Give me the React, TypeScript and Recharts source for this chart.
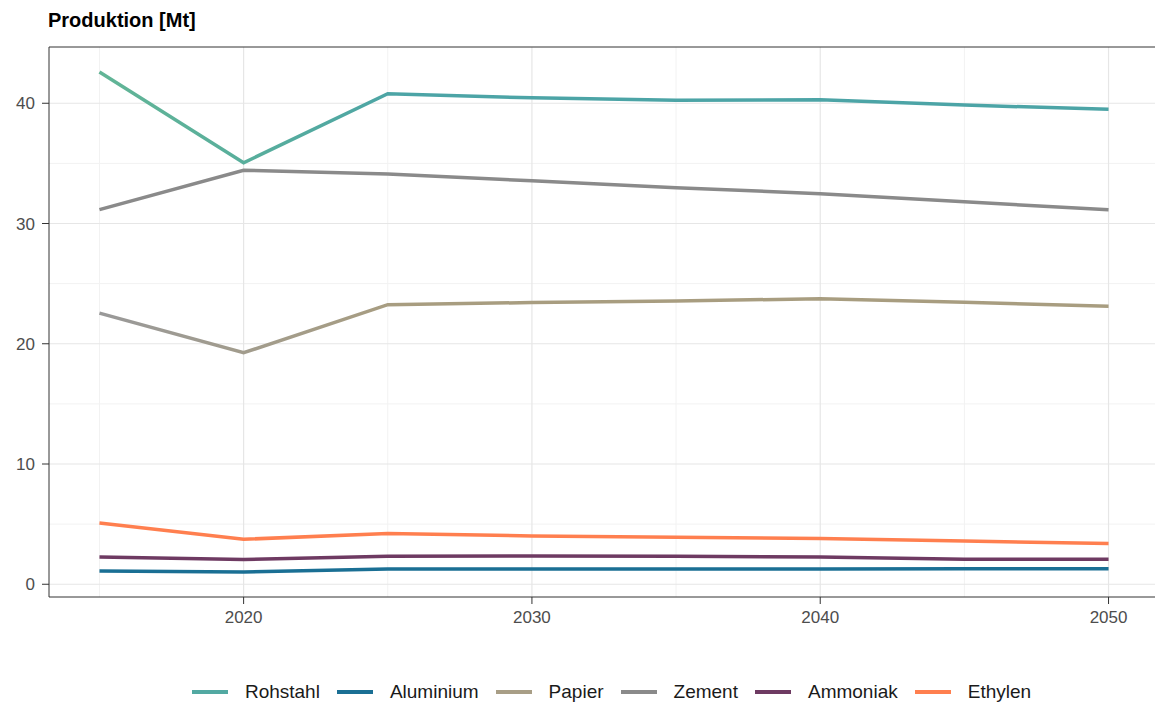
import React from "react";
import {
  LineChart,
  Line,
  XAxis,
  YAxis,
  CartesianGrid,
  Legend,
  ReferenceArea,
} from "recharts";

const years = [2015, 2020, 2025, 2030, 2035, 2040, 2045, 2050];
const rohstahl = [42.6, 35.05, 40.8, 40.45, 40.25, 40.3, 39.85, 39.5];
const aluminium = [1.1, 1.02, 1.27, 1.27, 1.27, 1.27, 1.28, 1.3];
const papier = [22.55, 19.25, 23.25, 23.43, 23.55, 23.75, 23.45, 23.12];
const zement = [31.15, 34.43, 34.12, 33.55, 32.98, 32.48, 31.8, 31.15];
const ammoniak = [2.27, 2.05, 2.33, 2.35, 2.32, 2.27, 2.08, 2.08];
const ethylen = [5.1, 3.74, 4.22, 4.02, 3.9, 3.8, 3.6, 3.38];

const xTicks = [2020, 2030, 2040, 2050];
const yTicks = [0, 10, 20, 30, 40];
const xMinor = [2015, 2025, 2035, 2045];
const yMinor = [5, 15, 25, 35];

const series = [
  { key: "Rohstahl", values: rohstahl, color: "#52a9a2", stroke: "url(#gradRohstahl)" },
  { key: "Aluminium", values: aluminium, color: "#1a6f94", stroke: "#1a6f94" },
  { key: "Papier", values: papier, color: "#a89e86", stroke: "url(#gradPapier)" },
  { key: "Zement", values: zement, color: "#8a8a8a", stroke: "#8a8a8a" },
  { key: "Ammoniak", values: ammoniak, color: "#6e3a62", stroke: "#6e3a62" },
  { key: "Ethylen", values: ethylen, color: "#ff7f4f", stroke: "#ff7f4f" },
];

const data = years.map((year, i) => {
  const row: Record<string, number> = { year };
  series.forEach((s) => {
    row[s.key] = s.values[i];
  });
  return row;
});

// ggplot-style 5% expansion
const allValues = series.flatMap((s) => s.values);
const yLo = Math.min(...allValues);
const yHi = Math.max(...allValues);
const yPad = (yHi - yLo) * 0.05;
const yDomain: [number, number] = [yLo - yPad, yHi + yPad];
const xPad = (years[years.length - 1] - years[0]) * 0.05;
const xDomain: [number, number] = [years[0] - xPad, years[years.length - 1] + xPad];

const font = "'Liberation Sans', Arial, sans-serif";

const LegendRow = () => (
  <div
    style={{
      display: "flex",
      justifyContent: "center",
      alignItems: "center",
      gap: 17,
      fontFamily: font,
      fontSize: 19,
      color: "#1a1a1a",
    }}
  >
    {series.map((s) => (
      <div key={s.key} style={{ display: "flex", alignItems: "center" }}>
        <span
          style={{
            display: "inline-block",
            width: 36,
            height: 4,
            background: s.color,
            marginRight: 17,
          }}
        />
        <span>{s.key}</span>
      </div>
    ))}
  </div>
);

export default function App() {
  return (
    <div
      style={{
        position: "absolute",
        left: 0,
        top: 0,
        width: 1155,
        height: 706,
        background: "#fff",
        fontFamily: font,
        overflow: "hidden",
      }}
    >
      <div
        style={{
          position: "absolute",
          left: 48,
          top: 9,
          fontSize: 20,
          fontWeight: "bold",
          color: "#000",
        }}
      >
        Produktion [Mt]
      </div>
      <LineChart
        width={1155}
        height={706}
        data={data}
        margin={{ top: 47, right: -4, bottom: 79, left: 7 }}
        style={{ overflow: "visible" }}
      >
        <defs>
          <linearGradient id="gradRohstahl" x1="0" y1="0" x2="1" y2="0">
            <stop offset="0" stopColor="#62b596" />
            <stop offset="0.15" stopColor="#58ae9c" />
            <stop offset="0.3" stopColor="#4ca4a6" />
            <stop offset="1" stopColor="#4ca4a6" />
          </linearGradient>
          <linearGradient id="gradPapier" x1="0" y1="0" x2="1" y2="0">
            <stop offset="0" stopColor="#999999" />
            <stop offset="0.15" stopColor="#a29c8c" />
            <stop offset="0.3" stopColor="#a89d80" />
            <stop offset="1" stopColor="#a89d80" />
          </linearGradient>
        </defs>
        <CartesianGrid
          stroke="#f2f2f2"
          strokeWidth={1}
          horizontalValues={yMinor}
          verticalValues={xMinor}
        />
        <CartesianGrid
          stroke="#e6e6e6"
          strokeWidth={1.2}
          horizontalValues={yTicks}
          verticalValues={xTicks}
        />
        <XAxis
          dataKey="year"
          type="number"
          domain={xDomain}
          ticks={xTicks}
          allowDataOverflow
          height={30}
          axisLine={false}
          tickLine={{ stroke: "#333" }}
          tickSize={7}
          tick={{ fill: "#4d4d4d", fontSize: 17, fontFamily: font }}
          tickMargin={7}
        />
        <YAxis
          type="number"
          domain={yDomain}
          ticks={yTicks}
          allowDataOverflow
          width={42}
          axisLine={false}
          tickLine={{ stroke: "#333" }}
          tickSize={7}
          tick={{ fill: "#4d4d4d", fontSize: 17, fontFamily: font }}
          tickMargin={7}
        />
        <ReferenceArea
          x1={xDomain[0]}
          x2={xDomain[1]}
          y1={yDomain[0]}
          y2={yDomain[1]}
          fill="none"
          stroke="#333"
          strokeWidth={1}
        />
        {series.map((s) => (
          <Line
            key={s.key}
            type="linear"
            dataKey={s.key}
            stroke={s.stroke}
            strokeWidth={3.5}
            dot={false}
            activeDot={false}
            isAnimationActive={false}
          />
        ))}
        <Legend
          verticalAlign="middle"
          layout="horizontal"
          content={() => <LegendRow />}
          wrapperStyle={{ top: 681, left: 34, width: 1155 }}
        />
      </LineChart>
    </div>
  );
}
